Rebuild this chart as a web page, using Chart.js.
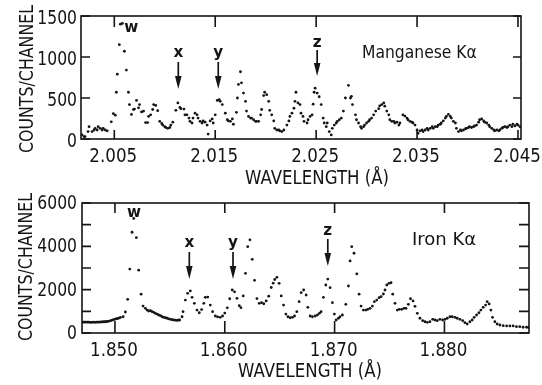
<!DOCTYPE html>
<html>
<head>
<meta charset="utf-8">
<script src="https://cdn.jsdelivr.net/npm/chart.js@4/dist/chart.umd.min.js"></script>
<style>
html, body { margin: 0; padding: 0; background: #fff; }
#wrap { position: relative; width: 542px; height: 385px; }
canvas { position: absolute; left: 0; }
</style>
</head>
<body>
<div id="wrap">
  <canvas id="mnChart" width="542" height="192" style="top:0"></canvas>
  <canvas id="feChart" width="542" height="193" style="top:192px"></canvas>
</div>
<script>
// Manganese K-alpha spectrum (wavelength in Angstrom, counts per channel)
const mnWavelength = [
  2.0018,2.0020,2.0021,2.0024,2.0025,2.0028,2.0030,2.0031,2.0033,2.0034,
  2.0036,2.0038,2.0039,2.0041,2.0043,2.0047,2.0049,2.0051,2.0052,2.0053,
  2.0055,2.0056,2.0058,2.0060,2.0062,2.0064,2.0065,2.0067,2.0069,2.0070,
  2.0072,2.0074,2.0075,2.0077,2.0079,2.0081,2.0083,2.0084,2.0086,2.0088,
  2.0089,2.0091,2.0093,2.0095,2.0097,2.0098,2.0100,2.0101,2.0103,2.0105,
  2.0106,2.0108,2.0111,2.0113,2.0115,2.0116,2.0119,2.0120,2.0122,2.0124,
  2.0125,2.0127,2.0128,2.0130,2.0132,2.0133,2.0135,2.0137,2.0138,2.0140,
  2.0142,2.0143,2.0145,2.0147,2.0148,2.0150,2.0152,2.0154,2.0155,2.0157,
  2.0160,2.0162,2.0163,2.0165,2.0167,2.0168,2.0171,2.0172,2.0173,2.0175,
  2.0176,2.0178,2.0180,2.0181,2.0183,2.0185,2.0186,2.0188,2.0190,2.0191,
  2.0193,2.0195,2.0196,2.0198,2.0199,2.0201,2.0203,2.0204,2.0206,2.0208,
  2.0209,2.0211,2.0213,2.0214,2.0216,2.0218,2.0221,2.0223,2.0224,2.0226,
  2.0228,2.0229,2.0230,2.0232,2.0234,2.0235,2.0237,2.0238,2.0241,2.0242,
  2.0244,2.0246,2.0247,2.0248,2.0249,2.0251,2.0253,2.0255,2.0257,2.0258,
  2.0260,2.0261,2.0263,2.0265,2.0266,2.0268,2.0270,2.0271,2.0273,2.0275,
  2.0277,2.0279,2.0282,2.0284,2.0285,2.0286,2.0289,2.0290,2.0292,2.0294,
  2.0295,2.0297,2.0298,2.0300,2.0302,2.0303,2.0305,2.0307,2.0309,2.0312,
  2.0313,2.0315,2.0317,2.0318,2.0320,2.0322,2.0323,2.0325,2.0327,2.0328,
  2.0330,2.0332,2.0333,2.0336,2.0338,2.0340,2.0341,2.0343,2.0345,2.0346,
  2.0348,2.0350,2.0351,2.0353,2.0355,2.0356,2.0358,2.0360,2.0361,2.0363,
  2.0365,2.0366,2.0368,2.0370,2.0371,2.0373,2.0374,2.0376,2.0378,2.0379,
  2.0381,2.0383,2.0384,2.0386,2.0388,2.0389,2.0391,2.0393,2.0394,2.0396,
  2.0398,2.0399,2.0401,2.0402,2.0404,2.0406,2.0407,2.0409,2.0411,2.0412,
  2.0414,2.0416,2.0417,2.0419,2.0421,2.0422,2.0424,2.0426,2.0427,2.0429,
  2.0431,2.0432,2.0434,2.0435,2.0437,2.0439,2.0440,2.0442,2.0444,2.0445,
  2.0447,2.0449,2.0450,2.0452
];
const mnCounts = [
  50,30,30,90,150,90,110,130,110,150,
  130,110,130,110,100,210,310,290,570,790,
  1150,1400,1410,1070,840,570,420,300,360,365,
  470,380,420,330,340,200,200,275,295,360,
  420,410,345,215,190,170,150,140,130,140,
  170,205,350,440,385,370,365,295,295,255,
  215,195,255,315,295,255,215,195,220,205,
  170,60,220,245,195,295,470,480,460,420,
  315,235,220,215,245,180,325,500,665,820,
  685,560,460,340,275,255,255,235,215,215,
  215,295,360,530,570,540,460,350,295,220,
  130,110,110,100,90,110,170,220,275,315,
  375,460,570,440,420,315,275,215,195,235,
  275,295,425,570,620,560,515,420,255,195,
  150,195,90,50,130,170,195,215,235,255,
  340,500,655,500,520,420,295,235,195,150,
  130,150,170,195,215,235,255,295,340,370,
  405,420,440,400,340,295,235,215,215,195,
  205,170,195,295,280,255,235,215,205,195,
  170,110,70,100,110,90,110,130,110,130,
  150,130,150,150,170,180,195,220,255,275,
  300,275,255,215,195,130,90,110,100,110,
  125,130,140,150,140,150,160,170,205,235,
  245,220,205,195,170,150,130,110,100,110,
  100,110,130,140,150,140,150,170,150,180,
  160,180,170,150
];
const mnXTicks = [2.005, 2.015, 2.025, 2.035, 2.045];
const mnXTickLabels = ['2.005', '2.015', '2.025', '2.035', '2.045'];
const mnYTicks = [0, 500, 1000, 1500];
const mnYTickLabels = ['0', '500', '1000', '1500'];
const mnLineNames = ['w', 'x', 'y', 'z'];
const mnLineAt = [2.00668, 2.01134, 2.01530, 2.02510];

// Iron K-alpha spectrum
const feWavelength = [
  1.84709,1.84723,1.84736,1.84750,1.84764,1.84777,1.84791,1.84805,1.84818,1.84832,
  1.84845,1.84859,1.84873,1.84886,1.84900,1.84914,1.84927,1.84941,1.84955,1.84968,
  1.84982,1.84995,1.85009,1.85023,1.85036,1.85050,1.85075,1.85095,1.85116,1.85135,
  1.85156,1.85171,1.85195,1.85216,1.85238,1.85256,1.85277,1.85293,1.85307,1.85323,
  1.85338,1.85353,1.85368,1.85384,1.85398,1.85414,1.85429,1.85444,1.85459,1.85475,
  1.85489,1.85505,1.85520,1.85535,1.85550,1.85565,1.85577,1.85589,1.85611,1.85620,
  1.85641,1.85662,1.85686,1.85702,1.85723,1.85747,1.85768,1.85789,1.85809,1.85823,
  1.85845,1.85868,1.85889,1.85914,1.85935,1.85959,1.85980,1.86000,1.86023,1.86045,
  1.86068,1.86089,1.86111,1.86132,1.86147,1.86168,1.86189,1.86209,1.86229,1.86250,
  1.86271,1.86293,1.86314,1.86335,1.86355,1.86377,1.86400,1.86423,1.86441,1.86455,
  1.86475,1.86495,1.86514,1.86535,1.86556,1.86575,1.86595,1.86616,1.86635,1.86656,
  1.86677,1.86695,1.86718,1.86741,1.86756,1.86777,1.86798,1.86823,1.86844,1.86862,
  1.86877,1.86898,1.86920,1.86938,1.86959,1.86980,1.86998,1.87014,1.87035,1.87050,
  1.87071,1.87102,1.87126,1.87141,1.87156,1.87177,1.87202,1.87223,1.87241,1.87262,
  1.87284,1.87302,1.87323,1.87344,1.87362,1.87384,1.87405,1.87423,1.87444,1.87459,
  1.87475,1.87495,1.87514,1.87529,1.87550,1.87571,1.87589,1.87611,1.87632,1.87650,
  1.87671,1.87691,1.87714,1.87732,1.87753,1.87777,1.87802,1.87823,1.87844,1.87868,
  1.87893,1.87914,1.87935,1.87959,1.87984,1.88005,1.88026,1.88050,1.88071,1.88095,
  1.88116,1.88141,1.88166,1.88186,1.88207,1.88232,1.88253,1.88271,1.88293,1.88314,
  1.88332,1.88353,1.88375,1.88389,1.88407,1.88423,1.88438,1.88459,1.88480,1.88505,
  1.88535,1.88566,1.88596,1.88626,1.88656,1.88686,1.88716,1.88747,1.88764
];
const feCounts = [
  500,500,505,500,500,495,495,500,495,500,
  505,500,510,510,520,520,530,540,560,580,
  610,630,650,670,690,720,750,970,1555,2950,
  4650,5290,4400,2900,1790,1245,1140,1060,1015,1030,
  985,955,910,875,830,800,750,725,705,680,
  655,630,615,600,590,585,590,600,750,985,
  1520,1830,1940,1645,1370,1060,935,1080,1370,1645,
  1660,1290,985,785,740,725,785,920,1160,1580,
  1985,1900,1600,1260,1170,1710,2755,3985,4300,3400,
  2430,1590,1370,1400,1350,1480,1700,2100,2300,2470,
  2570,2295,1710,1290,875,750,705,725,785,985,
  1445,1860,1985,1755,1185,785,750,785,830,910,
  985,1645,2215,2490,2090,1400,875,600,680,750,
  830,1325,2170,3325,3985,3680,2725,1790,1245,1060,
  1060,1095,1140,1245,1445,1520,1630,1675,1800,1985,
  2215,2295,2320,1790,1370,1060,1095,1095,1140,1140,
  1325,1580,1480,1230,910,680,570,520,495,520,
  630,600,570,630,600,630,680,750,750,725,
  680,630,570,475,415,520,600,725,830,935,
  1060,1185,1290,1445,1340,1060,725,520,415,370,
  340,325,325,325,290,290,265,265,260
];
const feXTicks = [1.850, 1.860, 1.870, 1.880];
const feXTickLabels = ['1.850', '1.860', '1.870', '1.880'];
const feYTicks = [0, 1000, 2000, 3000, 4000, 5000, 6000];
const feYTickLabels = ['0', '', '2000', '', '4000', '', '6000'];
const feLineNames = ['w', 'x', 'y', 'z'];
const feLineAt = [1.85173, 1.85677, 1.86075, 1.86938];

const INK = '#151515';
const FONT = '"DejaVu Sans", "Liberation Sans", Arial, sans-serif';

function drawText(ctx, s, x, y, size, sx, o) {
  o = o || {};
  ctx.save();
  ctx.translate(x, y);
  if (o.rotate) ctx.rotate(-Math.PI / 2);
  ctx.scale(sx, 1);
  ctx.font = (o.bold ? 'bold ' : '') + size + 'px ' + FONT;
  ctx.textAlign = o.align || 'center';
  ctx.textBaseline = 'alphabetic';
  ctx.fillStyle = INK;
  ctx.fillText(s, 0, 0);
  ctx.restore();
}

function drawArrow(ctx, x, y0, y1) {
  ctx.save();
  ctx.strokeStyle = INK;
  ctx.fillStyle = INK;
  ctx.lineWidth = 1.7;
  ctx.beginPath();
  ctx.moveTo(x, y0);
  ctx.lineTo(x, y1 - 8);
  ctx.stroke();
  ctx.beginPath();
  ctx.moveTo(x - 3.3, y1 - 13);
  ctx.lineTo(x + 3.3, y1 - 13);
  ctx.lineTo(x, y1);
  ctx.closePath();
  ctx.fill();
  ctx.restore();
}

// frame, inward ticks, labels and line markers
function panelPlugin(cfg) {
  return {
    id: 'panel',
    afterDatasetsDraw(chart) {
      const ctx = chart.ctx, a = chart.chartArea;
      const xs = chart.scales.x, ys = chart.scales.y;
      ctx.save();
      ctx.strokeStyle = INK;
      ctx.lineWidth = 1.6;
      ctx.strokeRect(a.left, a.top, a.right - a.left, a.bottom - a.top);
      ctx.beginPath();
      cfg.xTicks.forEach(v => {
        const p = xs.getPixelForValue(v);
        ctx.moveTo(p, a.bottom); ctx.lineTo(p, a.bottom - cfg.tick.bottom);
        ctx.moveTo(p, a.top); ctx.lineTo(p, a.top + cfg.tick.top);
      });
      cfg.yTicks.forEach(v => {
        const p = ys.getPixelForValue(v);
        ctx.moveTo(a.left, p); ctx.lineTo(a.left + cfg.tick.left, p);
        ctx.moveTo(a.right, p); ctx.lineTo(a.right - cfg.tick.right, p);
      });
      ctx.stroke();
      ctx.restore();

      cfg.xTicks.forEach((v, i) => {
        drawText(ctx, cfg.xLabels[i], xs.getPixelForValue(v) - 1, a.bottom + 23, 19, 0.88);
      });
      cfg.yTicks.forEach((v, i) => {
        if (cfg.yLabels[i]) drawText(ctx, cfg.yLabels[i], 77, ys.getPixelForValue(v) + cfg.yLabelShift, 19, 0.82, { align: 'right' });
      });

      drawText(ctx, 'WAVELENGTH (Å)', cfg.xTitle[0], cfg.xTitle[1], 19.5, 0.85);
      drawText(ctx, 'COUNTS/CHANNEL', cfg.yTitle[0], cfg.yTitle[1], 19.5, 0.81, { rotate: true });
      drawText(ctx, cfg.element, cfg.elementPos[0], cfg.elementPos[1], 18, cfg.elementSx, { align: 'left' });

      cfg.lineNames.forEach((name, i) => {
        const x = xs.getPixelForValue(cfg.lineAt[i]);
        const m = cfg.markers[i];
        drawText(ctx, name, x, m.text, 16, 0.95, { bold: true });
        if (m.to) drawArrow(ctx, x, m.from, m.to);
      });
    }
  };
}

function makeChart(id, xs, ys, xMin, xMax, yMax, pad, yWidth, xHeight, cfg) {
  return new Chart(document.getElementById(id), {
    type: 'scatter',
    data: {
      datasets: [{
        data: xs.map((x, i) => ({ x: x, y: ys[i] })),
        pointRadius: 1.4,
        pointBorderWidth: 0,
        pointBackgroundColor: INK,
        showLine: false
      }]
    },
    options: {
      responsive: false,
      devicePixelRatio: 1,
      animation: false,
      events: [],
      layout: { padding: pad, autoPadding: false },
      plugins: { legend: { display: false }, tooltip: { enabled: false } },
      scales: {
        x: {
          type: 'linear', min: xMin, max: xMax,
          grid: { display: false }, border: { display: false }, ticks: { display: false },
          afterFit: s => { s.height = xHeight; }
        },
        y: {
          type: 'linear', min: 0, max: yMax,
          grid: { display: false }, border: { display: false }, ticks: { display: false },
          afterFit: s => { s.width = yWidth; }
        }
      }
    },
    plugins: [panelPlugin(cfg)]
  });
}

makeChart('mnChart', mnWavelength, mnCounts, 2.0017, 2.0453, 1500,
  { top: 16, right: 21, left: 0, bottom: 0 }, 81, 53, {
    xTicks: mnXTicks, xLabels: mnXTickLabels,
    yTicks: mnYTicks, yLabels: mnYTickLabels, yLabelShift: 8,
    tick: { top: 11, bottom: 9, left: 9, right: 8 },
    xTitle: [317, 184], yTitle: [33, 79],
    element: 'Manganese Kα', elementPos: [362, 58], elementSx: 0.865,
    lineNames: mnLineNames, lineAt: mnLineAt,
    markers: [{ text: 32 }, { text: 57, from: 62, to: 89 }, { text: 57, from: 62, to: 89 }, { text: 47, from: 50, to: 76 }]
  });

makeChart('feChart', feWavelength, feCounts, 1.8470, 1.8877, 6000,
  { top: 11, right: 13, left: 0, bottom: 0 }, 82, 52, {
    xTicks: feXTicks, xLabels: feXTickLabels,
    yTicks: feYTicks, yLabels: feYTickLabels, yLabelShift: 6,
    tick: { top: 10, bottom: 12, left: 9, right: 10 },
    xTitle: [310, 185], yTitle: [32, 75],
    element: 'Iron Kα', elementPos: [412, 53], elementSx: 1.0,
    lineNames: feLineNames, lineAt: feLineAt,
    markers: [{ text: 25 }, { text: 55, from: 60, to: 87 }, { text: 55, from: 60, to: 87 }, { text: 43, from: 47, to: 74 }]
  });
</script>
</body>
</html>
